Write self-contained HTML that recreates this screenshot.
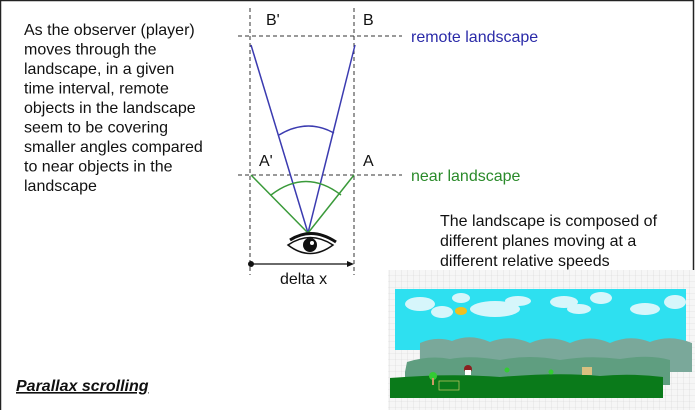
<!DOCTYPE html>
<html><head><style>
html,body{margin:0;padding:0;background:#fff}
svg{display:block}
text{font-family:"Liberation Sans",Arial,sans-serif}
</style></head><body>
<svg width="695" height="410" viewBox="0 0 695 410" xmlns="http://www.w3.org/2000/svg">
<defs>
<pattern id="g" width="6" height="6" patternUnits="userSpaceOnUse">
<path d="M6 0V6M0 6H6" stroke="#d4d4d4" stroke-width="0.6" fill="none"/>
</pattern>
</defs>
<rect x="0.5" y="0.5" width="693" height="420" fill="#fff" stroke="#222" stroke-width="1.5"/>
<g font-size="16" fill="#111">
<text x="24" y="35">As the observer (player)</text>
<text x="24" y="54.5">moves through the</text>
<text x="24" y="74">landscape, in a given</text>
<text x="24" y="93.5">time  interval, remote</text>
<text x="24" y="113">objects in the landscape</text>
<text x="24" y="132.5">seem to be covering</text>
<text x="24" y="152">smaller angles compared</text>
<text x="24" y="171.5">to near objects in the</text>
<text x="24" y="191">landscape</text>
</g>
<g stroke="#333" stroke-width="1" stroke-dasharray="4,3" fill="none">
<line x1="250" y1="8" x2="250" y2="275"/>
<line x1="354" y1="8" x2="354" y2="275"/>
<line x1="238" y1="36" x2="402" y2="36"/>
<line x1="238" y1="175" x2="402" y2="175"/>
</g>
<g font-size="16" fill="#111">
<text x="266" y="25">B'</text>
<text x="363" y="25">B</text>
<text x="259" y="166">A'</text>
<text x="363" y="166">A</text>
<text x="280" y="284">delta x</text>
</g>
<text x="411" y="42" font-size="16" fill="#2a2aa8">remote landscape</text>
<text x="411" y="181" font-size="16" fill="#2a8a2a">near landscape</text>
<g font-size="16" fill="#111">
<text x="440" y="226">The landscape is composed of</text>
<text x="440" y="246">different planes moving at a</text>
<text x="440" y="266">different relative speeds</text>
</g>
<g stroke="#3b3bb0" stroke-width="1.5" fill="none">
<line x1="251" y1="45" x2="308" y2="233"/>
<line x1="355" y1="45" x2="308" y2="233"/>
<path d="M279 135 Q307 118 334 133"/>
</g>
<g stroke="#3a9a3a" stroke-width="1.5" fill="none">
<line x1="251" y1="175" x2="308" y2="233"/>
<line x1="354" y1="175" x2="308" y2="233"/>
<path d="M271 195 Q306 168 341 195"/>
</g>
<g>
<path d="M288 245 Q310 230 333 245 Q310 262 288 245Z" fill="#fff" stroke="#111" stroke-width="1.5"/>
<circle cx="310" cy="245" r="7" fill="#111"/>
<circle cx="312" cy="243" r="2" fill="#fff"/>
<path d="M290 240 Q312 226 336 242" stroke="#111" stroke-width="3" fill="none"/>
</g>
<circle cx="251" cy="264" r="3" fill="#111"/>
<line x1="251" y1="264" x2="350" y2="264" stroke="#111" stroke-width="1.2"/>
<path d="M354 264 L347 261 L347 267Z" fill="#111"/>
<text x="16" y="391" font-size="16" font-weight="bold" font-style="italic" text-decoration="underline" fill="#111">Parallax scrolling</text>
<rect x="388" y="270" width="307" height="140" fill="#f6f6f6"/>
<rect x="388" y="270" width="307" height="140" fill="url(#g)"/>
<rect x="395" y="289" width="291" height="61" fill="#2ee0f0"/>
<g fill="#d6f6fb">
<ellipse cx="420" cy="304" rx="15" ry="7"/>
<ellipse cx="442" cy="312" rx="11" ry="6"/>
<ellipse cx="461" cy="298" rx="9" ry="5"/>
<ellipse cx="495" cy="309" rx="25" ry="8"/>
<ellipse cx="518" cy="301" rx="13" ry="5"/>
<ellipse cx="564" cy="302" rx="14" ry="6"/>
<ellipse cx="579" cy="309" rx="12" ry="5"/>
<ellipse cx="601" cy="298" rx="11" ry="6"/>
<ellipse cx="645" cy="309" rx="15" ry="6"/>
<ellipse cx="675" cy="302" rx="11" ry="7"/>
</g>
<ellipse cx="461" cy="311" rx="6" ry="4" fill="#f0c020"/>
<path d="M420 350 L420 343 Q436 336 452 341 Q470 333 490 342 Q510 334 530 343 Q550 334 570 343 Q590 334 610 343 Q630 334 650 342 Q670 334 692 343 L692 372 L420 372Z" fill="#7aa89a"/>
<path d="M405 372 L407 362 Q430 355 450 359 Q470 355 500 360 Q530 354 560 360 Q590 355 620 359 Q650 354 670 360 L670 385 L405 385Z" fill="#5f9e80"/>
<path d="M390 378 Q450 373 500 377 Q560 372 600 376 Q630 373 663 377 L663 398 L390 398Z" fill="#0a7a1a"/>
<circle cx="468" cy="369" r="4" fill="#8a2020"/>
<rect x="465" y="370" width="6" height="5" fill="#fff"/>
<circle cx="433" cy="376" r="4" fill="#3c3"/><rect x="432" y="378" width="2" height="7" fill="#c96"/>
<circle cx="507" cy="370" r="2.5" fill="#3c3"/>
<circle cx="551" cy="372" r="2.5" fill="#3c3"/>
<rect x="582" y="367" width="10" height="8" fill="#d8c080"/>
<rect x="439" y="381" width="20" height="9" fill="none" stroke="#cc6" stroke-width="0.7"/>
</svg>
</body></html>
